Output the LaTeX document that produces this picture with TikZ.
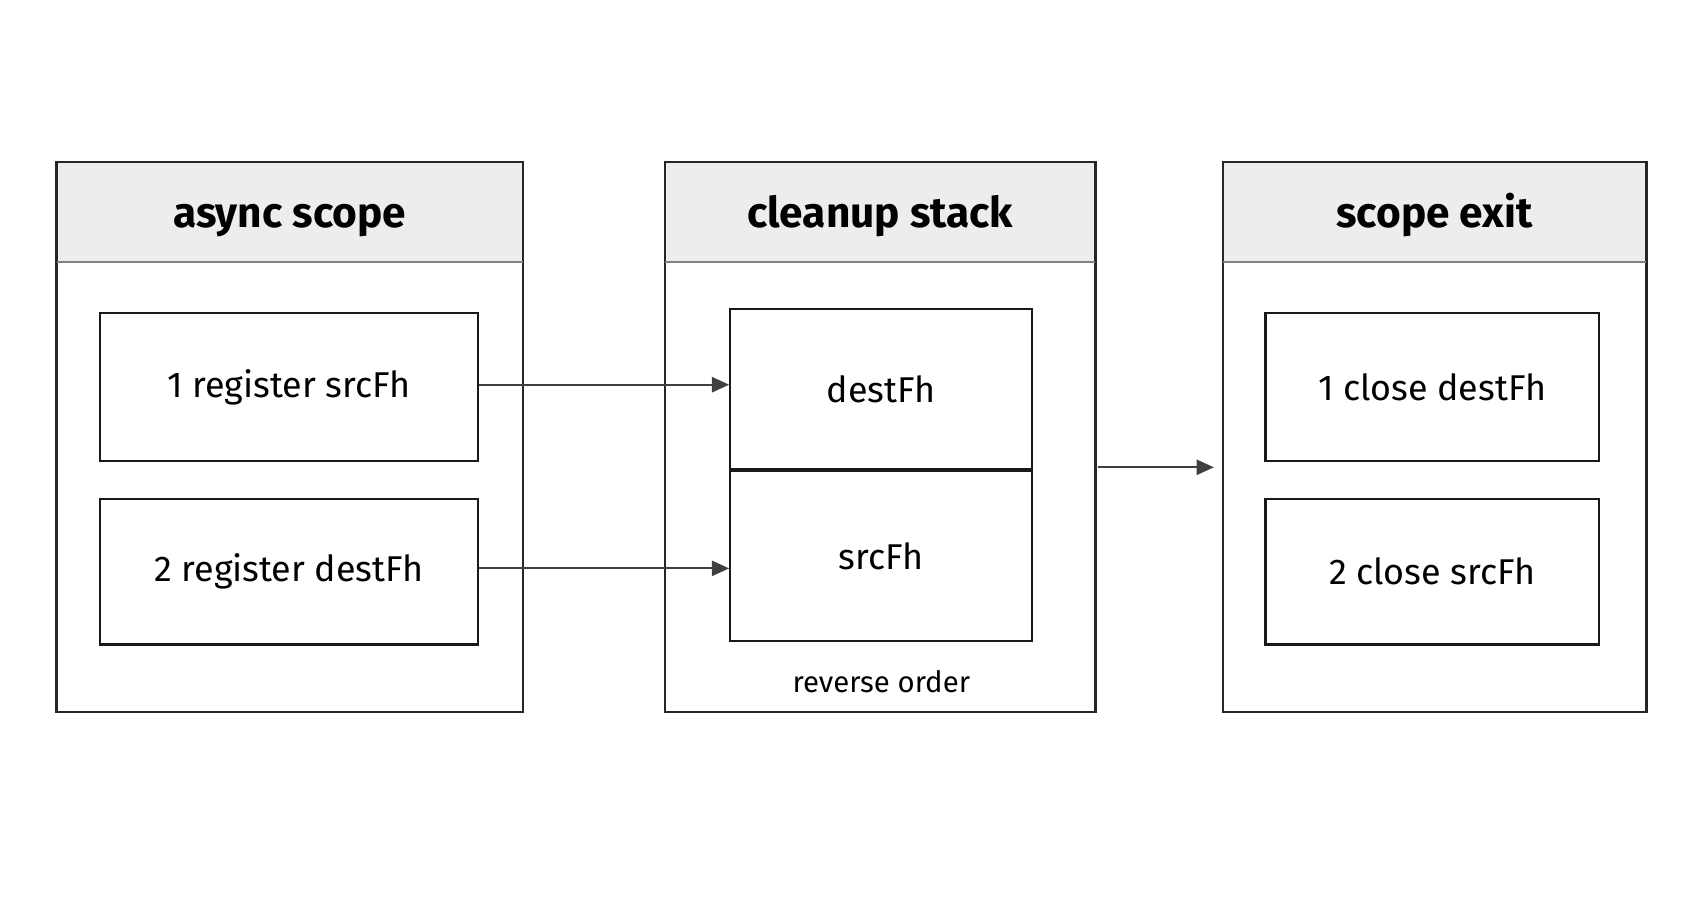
\documentclass[tikz,border=0pt]{standalone}
\usepackage{fontspec}
\setmainfont{Fira Sans}
\usetikzlibrary{arrows.meta}
\begin{document}
\begin{tikzpicture}[x=1pt,y=-1pt,
 panel/.style={draw=black!85,line width=2pt},
 box/.style={draw=black!90,line width=2pt,font=\fontsize{33}{36}\selectfont},
 ttl/.style={font=\fontsize{39}{44}\selectfont\bfseries,anchor=base},
 arr/.style={draw=black!75,line width=2pt,-{Triangle[length=16pt,width=14pt]}}]
\useasboundingbox (0,0) rectangle (1568,849);
% panels
\foreach \n/\a/\b/\t in {p1/52/481/async scope,p2/612/1008/cleanup stack,p3/1125/1515/scope exit}{
 \fill[black!7] (\a,149) rectangle (\b,241);
 \draw[panel] (\a,149) rectangle (\b,655);
 \draw[black!50,line width=2pt] (\a,241) -- (\b,241);
 \node[ttl] (\n) at ({(\a+\b)/2},209) {\t};
}
\node[box,minimum width=348pt,minimum height=136pt] (a1) at (266,356) {1 register srcFh};
\node[box,minimum width=348pt,minimum height=134pt] (a2) at (266,526) {2 register destFh};
\node[box,minimum width=278pt,minimum height=148pt] (s1) at (811,358) {destFh};
\node[box,minimum width=278pt,minimum height=157pt,anchor=north] (s2) at (811,432) {srcFh};
\node[font=\fontsize{27}{30}\selectfont] (ro) at (811,627) {reverse order};
\node[box,minimum width=307pt,minimum height=136pt] (c1) at (1318,356) {1 close destFh};
\node[box,minimum width=307pt,minimum height=134pt] (c2) at (1318,526) {2 close srcFh};
\draw[arr] (a1.east|-0,354) -- (s1.west|-0,354);
\draw[arr] (a2.east|-0,523) -- (s2.west|-0,523);
\coordinate (o1) at (1010,430);
\coordinate (o2) at (1117,430);
\draw[arr] (o1) -- (o2);
\end{tikzpicture}
\end{document}
